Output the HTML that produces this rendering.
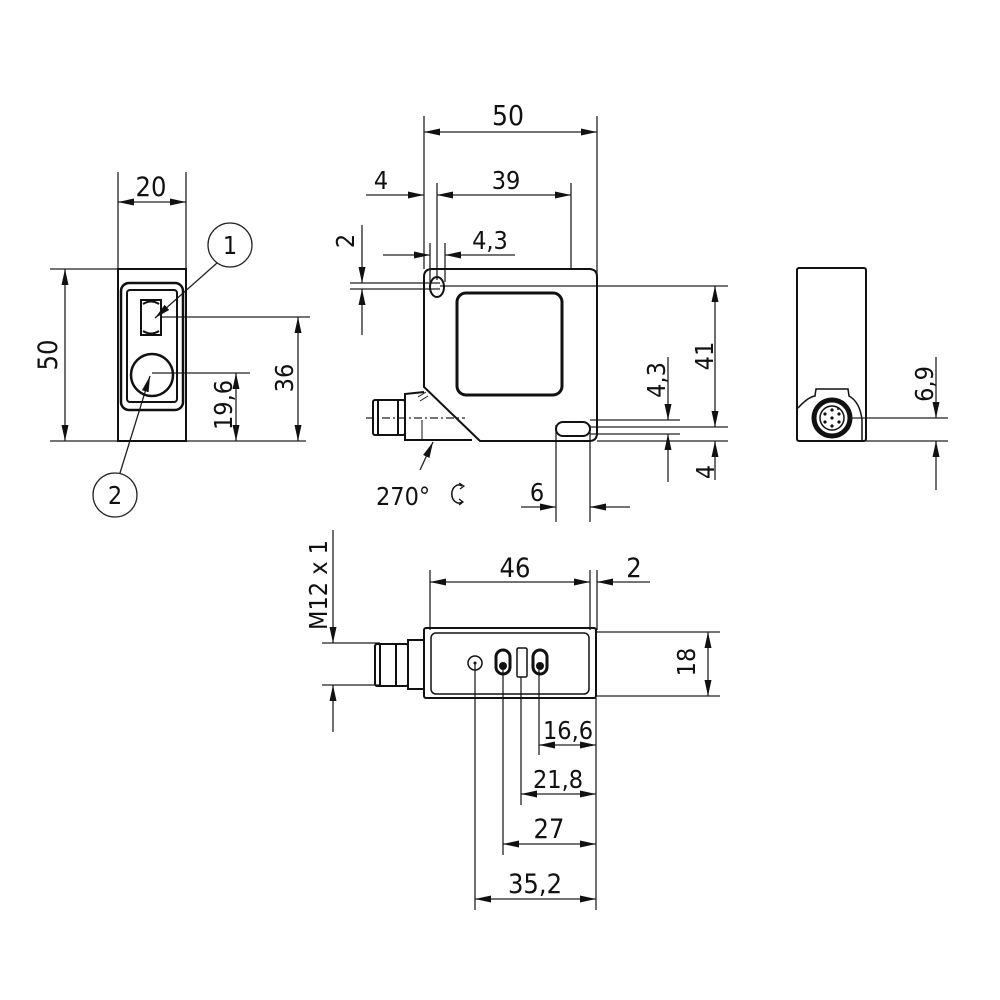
<!DOCTYPE html>
<html><head><meta charset="utf-8"><style>
html,body{margin:0;padding:0;background:#fff}
svg{display:block}
text{font-family:"DejaVu Sans Condensed","Liberation Sans",sans-serif;fill:#111}
</style></head><body>
<svg width="1000" height="1000" viewBox="0 0 1000 1000" xmlns="http://www.w3.org/2000/svg">
<defs>
<marker id="a" markerWidth="16" markerHeight="7" refX="16" refY="3.5" orient="auto-start-reverse" markerUnits="userSpaceOnUse"><path d="M0,0 L16,3.5 L0,7 z" fill="#111"/></marker>
</defs>
<g stroke="#222" stroke-width="1.3" fill="none">
<!-- LEFT VIEW -->
<line x1="118" y1="172" x2="118" y2="269"/><line x1="186" y1="172" x2="186" y2="269"/>
<line x1="118" y1="202" x2="186" y2="202" marker-start="url(#a)" marker-end="url(#a)"/>
<line x1="50" y1="269" x2="118" y2="269"/><line x1="50" y1="441" x2="306" y2="441"/>
<line x1="65" y1="269" x2="65" y2="441" marker-start="url(#a)" marker-end="url(#a)"/>
<line x1="161" y1="317" x2="310" y2="317"/>
<line x1="152" y1="373" x2="250" y2="373"/>
<line x1="298" y1="317" x2="298" y2="441" marker-start="url(#a)" marker-end="url(#a)"/>
<line x1="236" y1="373" x2="236" y2="441" marker-start="url(#a)" marker-end="url(#a)"/>
<circle cx="230" cy="245" r="22"/>
<line x1="217" y1="263" x2="155" y2="318" marker-end="url(#a)"/>
<circle cx="115" cy="495" r="22"/>
<line x1="120" y1="473" x2="150" y2="376" marker-end="url(#a)"/>
</g>
<g stroke="#111" fill="none">
<rect x="118" y="269" width="68" height="172" stroke-width="2"/>
<rect x="121" y="283" width="62" height="127" rx="8" stroke-width="2.5"/>
<rect x="127" y="290" width="50" height="112" rx="3" stroke-width="2"/>
<rect x="141" y="300" width="20" height="35" stroke-width="2"/>
<path d="M143,304 Q151,299 159,304 M143,331 Q151,336 159,331" stroke-width="2"/>
<circle cx="152" cy="375" r="21" stroke-width="2.5"/>
</g>
<text x="151" y="196" font-size="27" text-anchor="middle">20</text>
<text transform="translate(57,355) rotate(-90)" font-size="27" text-anchor="middle">50</text>
<text transform="translate(293,378) rotate(-90)" font-size="25" text-anchor="middle">36</text>
<text transform="translate(232,405) rotate(-90)" font-size="25" text-anchor="middle">19,6</text>
<text x="230" y="254" font-size="25" text-anchor="middle">1</text>
<text x="115" y="504" font-size="25" text-anchor="middle">2</text>

<!-- MIDDLE VIEW dims -->
<g stroke="#222" stroke-width="1.3" fill="none">
<line x1="424" y1="116" x2="424" y2="269"/><line x1="597" y1="116" x2="597" y2="430"/>
<line x1="424" y1="132" x2="597" y2="132" marker-start="url(#a)" marker-end="url(#a)"/>
<line x1="437" y1="183" x2="437" y2="280"/><line x1="571" y1="183" x2="571" y2="270"/>
<line x1="366" y1="195" x2="424" y2="195" marker-end="url(#a)"/>
<line x1="437" y1="195" x2="571" y2="195" marker-start="url(#a)" marker-end="url(#a)"/>
<line x1="430" y1="243" x2="430" y2="282"/><line x1="445" y1="243" x2="445" y2="282"/>
<line x1="383" y1="255" x2="430" y2="255" marker-end="url(#a)"/>
<line x1="515" y1="255" x2="445" y2="255" marker-end="url(#a)"/>
<line x1="350" y1="283" x2="440" y2="283"/><line x1="350" y1="289" x2="440" y2="289"/>
<line x1="362" y1="225" x2="362" y2="283" marker-end="url(#a)"/>
<line x1="362" y1="335" x2="362" y2="289" marker-end="url(#a)"/>
<line x1="440" y1="286" x2="728" y2="286"/>
<line x1="715" y1="286" x2="715" y2="427" marker-start="url(#a)" marker-end="url(#a)"/>
<line x1="715" y1="480" x2="715" y2="441" marker-end="url(#a)"/>
<line x1="590" y1="420" x2="680" y2="420"/><line x1="590" y1="427" x2="728" y2="427"/>
<line x1="590" y1="434" x2="680" y2="434"/><line x1="597" y1="441" x2="728" y2="441"/>
<line x1="668" y1="357" x2="668" y2="420" marker-end="url(#a)"/>
<line x1="668" y1="482" x2="668" y2="434" marker-end="url(#a)"/>
<line x1="556" y1="425" x2="556" y2="522"/><line x1="590" y1="425" x2="590" y2="522"/>
<line x1="521" y1="507" x2="556" y2="507" marker-end="url(#a)"/>
<line x1="630" y1="507" x2="590" y2="507" marker-end="url(#a)"/>
<line x1="420" y1="470" x2="433" y2="442" marker-end="url(#a)"/>
<line x1="366" y1="418" x2="465" y2="418" stroke-dasharray="8,3,2,3"/>
</g>
<g stroke="#111" fill="none" stroke-width="2">
<path d="M432,269 L589,269 Q597,269 597,277 L597,433 Q597,441 589,441 L480,441 L424,387 L424,277 Q424,269 432,269 Z"/>
<path d="M424,392 L405,394 L405,440 L472,440"/>
<line x1="422" y1="420" x2="422" y2="440" stroke-width="1"/>
<rect x="373" y="400" width="32" height="35" rx="2"/>
<line x1="378" y1="400" x2="378" y2="435"/><line x1="398" y1="400" x2="398" y2="435"/>
<path d="M418,397 l8,-5 M420,401 l8,-5" stroke-width="1"/>
<rect x="457" y="293" width="105" height="102" rx="9" stroke-width="3"/>
<ellipse cx="437" cy="287" rx="7" ry="10"/>
<rect x="556" y="422" width="34" height="14" rx="7"/>
</g>
<text x="508" y="125" font-size="28" text-anchor="middle">50</text>
<text x="381" y="189" font-size="25" text-anchor="middle">4</text>
<text x="506" y="189" font-size="25" text-anchor="middle">39</text>
<text x="490" y="249" font-size="25" text-anchor="middle">4,3</text>
<text transform="translate(354,241) rotate(-90)" font-size="25" text-anchor="middle">2</text>
<text transform="translate(713,356) rotate(-90)" font-size="25" text-anchor="middle">41</text>
<text transform="translate(665,380) rotate(-90)" font-size="25" text-anchor="middle">4,3</text>
<text transform="translate(714,472) rotate(-90)" font-size="25" text-anchor="middle">4</text>
<text x="537" y="501" font-size="25" text-anchor="middle">6</text>
<text x="376" y="505" font-size="25">270°</text>
<path d="M462,486 A7,9 0 1 0 462,502" stroke="#111" fill="none" stroke-width="1.5"/>
<path d="M459,483 l5,3 -4,3 M459,505 l4,-3 -4,-3" stroke="#111" fill="none" stroke-width="1.2"/>

<!-- RIGHT VIEW -->
<g stroke="#111" fill="none">
<rect x="797" y="268" width="69" height="173" rx="2" stroke-width="2"/>
<path d="M798,408 Q808,397 815,396 L816,389 L848,389 L849,396 Q860,402 862,420 L862,441" stroke-width="1.5"/>
<circle cx="832" cy="418" r="18" stroke-width="5"/>
<circle cx="832" cy="418" r="12" stroke-width="1.5"/>
</g>
<g fill="#111">
<circle cx="832" cy="418" r="1.6"/><circle cx="832" cy="410" r="1.6"/><circle cx="839" cy="414" r="1.6"/>
<circle cx="839" cy="422" r="1.6"/><circle cx="832" cy="426" r="1.6"/><circle cx="825" cy="422" r="1.6"/>
<circle cx="825" cy="414" r="1.6"/><circle cx="838" cy="409" r="1"/>
</g>
<g stroke="#222" stroke-width="1.3" fill="none">
<line x1="850" y1="418" x2="948" y2="418"/><line x1="866" y1="441" x2="948" y2="441"/>
<line x1="936" y1="357" x2="936" y2="418" marker-end="url(#a)"/>
<line x1="936" y1="490" x2="936" y2="441" marker-end="url(#a)"/>
</g>
<text transform="translate(933,384) rotate(-90)" font-size="25" text-anchor="middle">6,9</text>

<!-- BOTTOM VIEW -->
<g stroke="#222" stroke-width="1.3" fill="none">
<line x1="430" y1="570" x2="430" y2="630"/><line x1="590" y1="570" x2="590" y2="630"/><line x1="597" y1="570" x2="597" y2="630"/>
<line x1="430" y1="582" x2="590" y2="582" marker-start="url(#a)" marker-end="url(#a)"/>
<line x1="650" y1="582" x2="597" y2="582" marker-end="url(#a)"/>
<line x1="597" y1="632" x2="720" y2="632"/><line x1="597" y1="696" x2="720" y2="696"/>
<line x1="708" y1="632" x2="708" y2="696" marker-start="url(#a)" marker-end="url(#a)"/>
<line x1="322" y1="643" x2="380" y2="643"/><line x1="322" y1="685" x2="380" y2="685"/>
<line x1="333" y1="530" x2="333" y2="643" marker-end="url(#a)"/>
<line x1="333" y1="732" x2="333" y2="685" marker-end="url(#a)"/>
<line x1="475" y1="663" x2="475" y2="910"/><line x1="503" y1="670" x2="503" y2="855"/>
<line x1="521" y1="677" x2="521" y2="805"/><line x1="539" y1="670" x2="539" y2="755"/>
<line x1="596" y1="698" x2="596" y2="910"/>
<line x1="539" y1="745" x2="596" y2="745" marker-start="url(#a)" marker-end="url(#a)"/>
<line x1="521" y1="794" x2="596" y2="794" marker-start="url(#a)" marker-end="url(#a)"/>
<line x1="503" y1="844" x2="596" y2="844" marker-start="url(#a)" marker-end="url(#a)"/>
<line x1="475" y1="899" x2="596" y2="899" marker-start="url(#a)" marker-end="url(#a)"/>
</g>
<g stroke="#111" fill="none" stroke-width="2">
<rect x="424" y="628" width="172" height="70" rx="2"/>
<rect x="431" y="633" width="158" height="61" rx="5" stroke-width="1.5"/>
<path d="M424,640 L408,640 L408,689 L424,689"/>
<rect x="375" y="644" width="33" height="42" rx="2"/>
<line x1="380" y1="644" x2="380" y2="686"/><line x1="396" y1="644" x2="396" y2="686"/>
<circle cx="475" cy="663" r="7" stroke-width="1.5"/>
<rect x="496" y="650" width="14" height="24" rx="7" stroke-width="3"/>
<rect x="533" y="650" width="14" height="24" rx="7" stroke-width="3"/>
<rect x="517" y="648" width="10" height="29" rx="1.5" stroke-width="1.5"/>
</g>
<g fill="#111"><circle cx="503" cy="666" r="4"/><circle cx="540" cy="666" r="4"/><circle cx="475" cy="663" r="1.5"/></g>
<text x="515" y="577" font-size="27" text-anchor="middle">46</text>
<text x="634" y="577" font-size="27" text-anchor="middle">2</text>
<text transform="translate(695,662) rotate(-90)" font-size="25" text-anchor="middle">18</text>
<text transform="translate(327,585) rotate(-90)" font-size="25" text-anchor="middle">M12 x 1</text>
<text x="568" y="739" font-size="25" text-anchor="middle">16,6</text>
<text x="558" y="788" font-size="25" text-anchor="middle">21,8</text>
<text x="549" y="838" font-size="27" text-anchor="middle">27</text>
<text x="535" y="893" font-size="27" text-anchor="middle">35,2</text>
</svg>
</body></html>
